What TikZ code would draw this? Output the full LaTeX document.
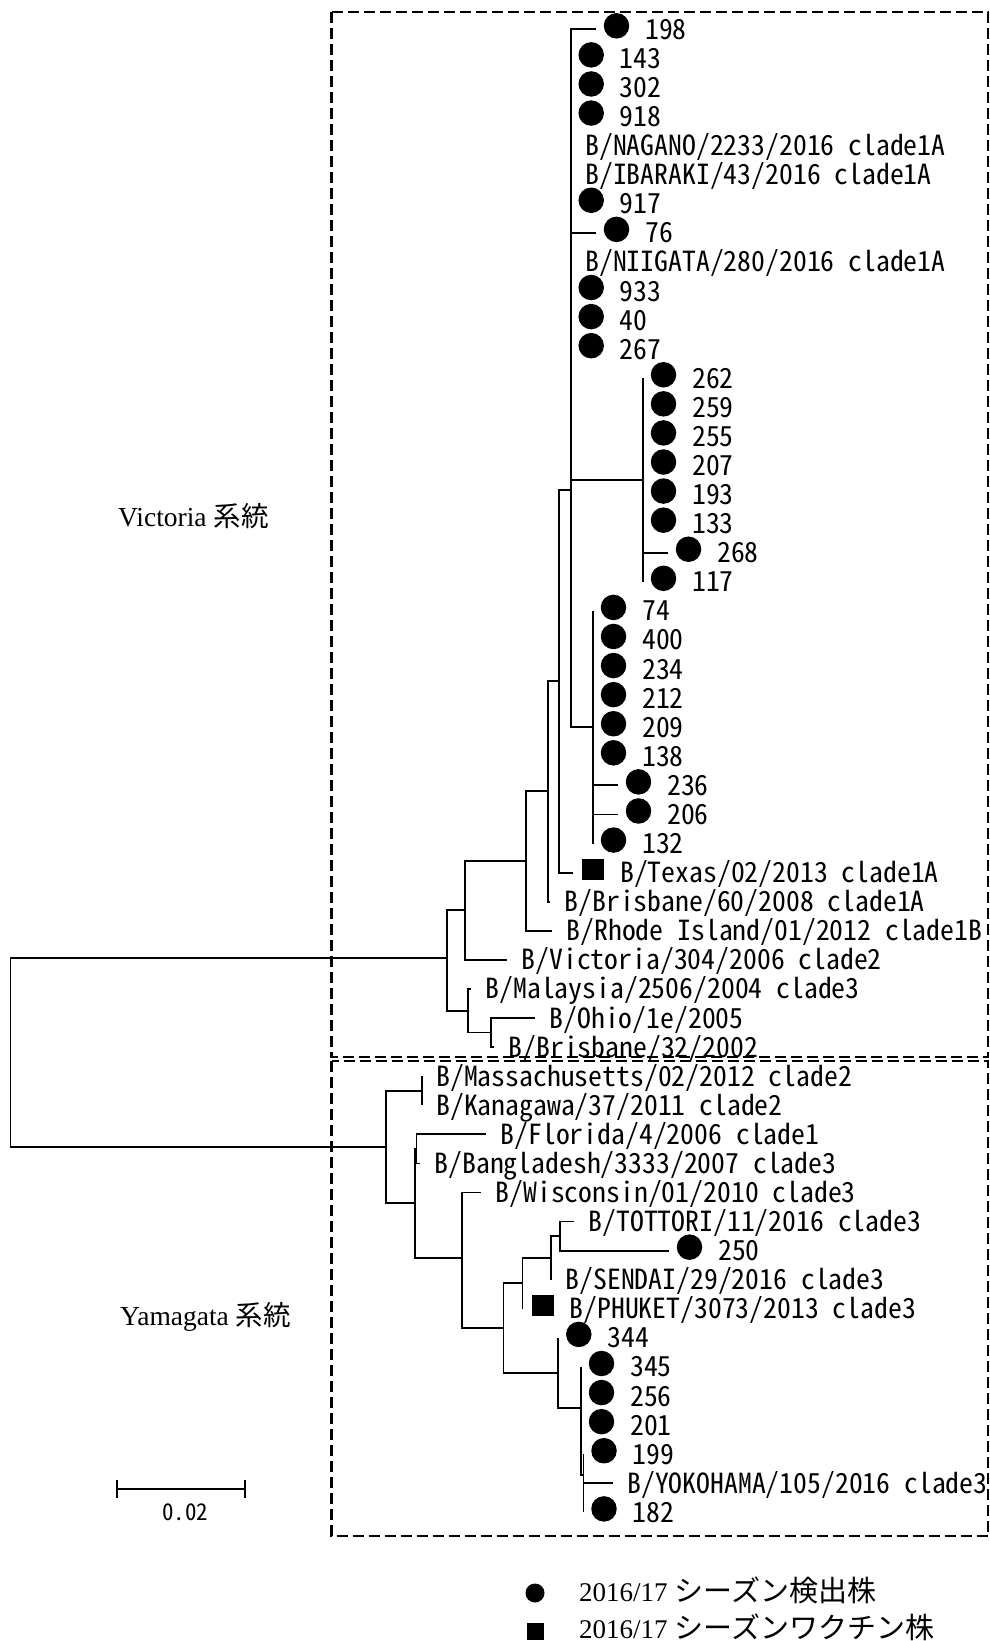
\documentclass[tikz,border=0pt]{standalone}
\usepackage{fontspec}
\setmainfont{Liberation Serif}
\newfontfamily\labfont[RawFeature=+hwid]{Noto Sans CJK JP}
\newfontfamily\jpfont{Noto Sans CJK JP}
\newcommand\LeafC[4]{%
  \coordinate (#1) at (#2,{29.3+29.08*#3});
  \node[leafdot] (#1d) at ([xshift=20.5pt,yshift=3.5pt]#1) {};
  \node[lab] (#1t) at ([xshift=49pt,yshift=-10pt]#1) {#4};}
\newcommand\LeafS[4]{%
  \coordinate (#1) at (#2,{29.3+29.08*#3});
  \node[leafsq] (#1d) at ([xshift=20pt,yshift=3pt]#1) {};
  \node[lab] (#1t) at ([xshift=47pt,yshift=-10pt]#1) {#4};}
\newcommand\LeafT[4]{%
  \coordinate (#1) at (#2,{29.3+29.08*#3});
  \node[lab] (#1t) at ([xshift=14.5pt,yshift=-10pt]#1) {#4};}
\begin{document}
\begin{tikzpicture}[x=1pt,y=-1pt,
  br/.style={line width=1.8pt},
  boxline/.style={line width=2.8pt, dash pattern=on 11pt off 5pt},
  leafdot/.style={circle, fill=black, inner sep=0pt, minimum size=25.5pt},
  leafsq/.style={rectangle, fill=black, inner sep=0pt, minimum width=22pt, minimum height=21pt},
  lab/.style={anchor=base west, inner sep=0pt, font={\labfont\fontsize{27.7}{30}\selectfont\spaceskip=0.5em\relax}},
  lineage/.style={anchor=base west, inner sep=0pt, font=\fontsize{27.5}{30}\selectfont},
  legtext/.style={anchor=base west, inner sep=0pt, font=\fontsize{27}{30}\selectfont}]
\useasboundingbox (0,0) rectangle (989,1641);

% boxes
\draw[boxline] (331.5,12) rectangle (988,1057);
\draw[boxline] (331.5,1061) rectangle (988,1536);

% internal nodes
\coordinate (root) at (10.5,1052);
\coordinate (A) at (447,958);
\coordinate (B) at (465,910);
\coordinate (C) at (468,1011);
\coordinate (D) at (491,1032.5);
\coordinate (E) at (526,861);
\coordinate (F) at (548,791);
\coordinate (G) at (559,681);
\coordinate (P) at (570.7,490);
\coordinate (J) at (570.7,253.6);
\coordinate (K) at (643,480);
\coordinate (H) at (593,727.2);
\coordinate (Y2) at (386,1147);
\coordinate (M) at (421.7,1090.7);
\coordinate (Y3) at (415,1203);
\coordinate (FB) at (416.5,1148.8);
\coordinate (Y4) at (461.6,1258);
\coordinate (Y5) at (503.5,1328);
\coordinate (Y6) at (522.5,1283);
\coordinate (Y7) at (551,1258);
\coordinate (Y8) at (560,1236);
\coordinate (Y9) at (558.3,1373);
\coordinate (Y10) at (581,1408);
\coordinate (Y11) at (583.5,1475);

% leaves: Victoria
\LeafC{t198}{596}{0}{198}
\LeafC{t143}{570.7}{1}{143}
\LeafC{t302}{570.7}{2}{302}
\LeafC{t918}{570.7}{3}{918}
\LeafT{tNag}{570.7}{4}{B/NAGANO/2233/2016 clade1A}
\LeafT{tIba}{570.7}{5}{B/IBARAKI/43/2016 clade1A}
\LeafC{t917}{570.7}{6}{917}
\LeafC{t76}{596}{7}{76}
\LeafT{tNii}{570.7}{8}{B/NIIGATA/280/2016 clade1A}
\LeafC{t933}{570.7}{9}{933}
\LeafC{t40}{570.7}{10}{40}
\LeafC{t267}{570.7}{11}{267}
\LeafC{t262}{643}{12}{262}
\LeafC{t259}{643}{13}{259}
\LeafC{t255}{643}{14}{255}
\LeafC{t207}{643}{15}{207}
\LeafC{t193}{643}{16}{193}
\LeafC{t133}{643}{17}{133}
\LeafC{t268}{668}{18}{268}
\LeafC{t117}{643}{19}{117}
\LeafC{t74}{593}{20}{74}
\LeafC{t400}{593}{21}{400}
\LeafC{t234}{593}{22}{234}
\LeafC{t212}{593}{23}{212}
\LeafC{t209}{593}{24}{209}
\LeafC{t138}{593}{25}{138}
\LeafC{t236}{618}{26}{236}
\LeafC{t206}{618}{27}{206}
\LeafC{t132}{593}{28}{132}
\LeafS{tTex}{573}{29}{B/Texas/02/2013 clade1A}
\LeafT{tBrA}{550}{30}{B/Brisbane/60/2008 clade1A}
\LeafT{tRho}{552}{31}{B/Rhode Island/01/2012 clade1B}
\LeafT{tVic}{507}{32}{B/Victoria/304/2006 clade2}
\LeafT{tMal}{471}{33}{B/Malaysia/2506/2004 clade3}
\LeafT{tOhi}{535}{34}{B/Ohio/1e/2005}
\LeafT{tBrB}{494}{35}{B/Brisbane/32/2002}
% leaves: Yamagata
\LeafT{tMas}{421.7}{36}{B/Massachusetts/02/2012 clade2}
\LeafT{tKan}{421.7}{37}{B/Kanagawa/37/2011 clade2}
\LeafT{tFlo}{486}{38}{B/Florida/4/2006 clade1}
\LeafT{tBan}{420}{39}{B/Bangladesh/3333/2007 clade3}
\LeafT{tWis}{481}{40}{B/Wisconsin/01/2010 clade3}
\LeafT{tTot}{574}{41}{B/TOTTORI/11/2016 clade3}
\LeafC{t250}{669}{42}{250}
\LeafT{tSen}{551}{43}{B/SENDAI/29/2016 clade3}
\LeafS{tPhu}{522.5}{44}{B/PHUKET/3073/2013 clade3}
\LeafC{t344}{558.3}{45}{344}
\LeafC{t345}{581}{46}{345}
\LeafC{t256}{581}{47}{256}
\LeafC{t201}{581}{48}{201}
\LeafC{t199}{583.5}{49}{199}
\LeafT{tYok}{612.7}{50}{B/YOKOHAMA/105/2016 clade3}
\LeafC{t182}{583.5}{51}{182}

% branches
\draw[br] (root) |- (A);
\draw[br] (root) |- (Y2);
\draw[br] (A) |- (B);
\draw[br] (A) |- (C);
\draw[br] (B) |- (E);
\draw[br] (B) |- (tVic);
\draw[br] (C) |- (tMal);
\draw[br] (C) |- (D);
\draw[br] (D) |- (tOhi);
\draw[br] (D) |- (tBrB);
\draw[br] (E) |- (F);
\draw[br] (E) |- (tRho);
\draw[br] (F) |- (G);
\draw[br] (F) |- (tBrA);
\draw[br] (G) |- (P);
\draw[br] (G) |- (tTex);
\draw[br] (P) |- (J);
\draw[br] (P) |- (H);
\foreach \c in {t198,t143,t302,t918,tNag,tIba,t917,t76,tNii,t933,t40,t267,K}
  \draw[br] (J) |- (\c);
\foreach \c in {t262,t259,t255,t207,t193,t133,t268,t117}
  \draw[br] (K) |- (\c);
\foreach \c in {t74,t400,t234,t212,t209,t138,t236,t206,t132}
  \draw[br] (H) |- (\c);
\draw[br] (Y2) |- (M);
\draw[br] (Y2) |- (Y3);
\draw[br] (M) |- (tMas);
\draw[br] (M) |- (tKan);
\draw[br] (Y3) |- (FB);
\draw[br] (Y3) |- (Y4);
\draw[br] (FB) |- (tFlo);
\draw[br] (FB) |- (tBan);
\draw[br] (Y4) |- (tWis);
\draw[br] (Y4) |- (Y5);
\draw[br] (Y5) |- (Y6);
\draw[br] (Y5) |- (Y9);
\draw[br] (Y6) |- (Y7);
\draw[br] (Y6) |- (tPhu);
\draw[br] (Y7) |- (Y8);
\draw[br] (Y7) |- (tSen);
\draw[br] (Y8) |- (tTot);
\draw[br] (Y8) |- (t250);
\draw[br] (Y9) |- (t344);
\draw[br] (Y9) |- (Y10);
\foreach \c in {t345,t256,t201,Y11}
  \draw[br] (Y10) |- (\c);
\foreach \c in {t199,tYok,t182}
  \draw[br] (Y11) |- (\c);

% lineage labels
\node[lineage] (vicl) at (118,526) {Victoria {\jpfont 系統}};
\node[lineage] (yaml) at (120,1325) {Yamagata {\jpfont 系統}};

% scale bar
\coordinate (sbL) at (116.7,1489);
\coordinate (sbR) at (245,1489);
\draw[br] (sbL) -- (sbR);
\draw[br] ([yshift=9pt]sbL) -- ([yshift=-9pt]sbL);
\draw[br] ([yshift=9pt]sbR) -- ([yshift=-9pt]sbR);
\node[inner sep=0pt, font=\labfont\fontsize{23}{25}\selectfont] (sbt) at (185,1512) {0.02};

% legend
\node[circle, fill=black, inner sep=0pt, minimum size=19pt] (lgc) at (535,1593) {};
\node[rectangle, fill=black, inner sep=0pt, minimum width=17pt, minimum height=17pt] (lgs) at (535,1631) {};
\node[legtext] (lgt1) at (579,1601) {2016/17 {\jpfont\fontsize{29}{32}\selectfont シーズン検出株}};
\node[legtext] (lgt2) at (579,1638) {2016/17 {\jpfont\fontsize{29}{32}\selectfont シーズンワクチン株}};
\end{tikzpicture}
\end{document}
